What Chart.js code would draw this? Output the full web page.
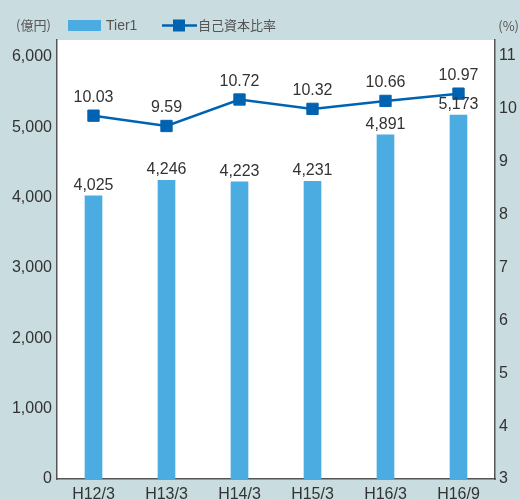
<!DOCTYPE html>
<html>
<head>
<meta charset="utf-8">
<script src="https://cdn.jsdelivr.net/npm/chart.js@4"></script>
<style>
  html, body { margin: 0; padding: 0; background: #c9dcdf; }
  canvas { display: block; }
</style>
</head>
<body>
<canvas id="chart" width="520" height="500"></canvas>
<script>
// データ
const categories = ['H12/3', 'H13/3', 'H14/3', 'H15/3', 'H16/3', 'H16/9'];
const tier1 = [4025, 4246, 4223, 4231, 4891, 5173];
const ratio = [10.03, 9.59, 10.72, 10.32, 10.66, 10.97];
const leftTicks = [0, 1000, 2000, 3000, 4000, 5000, 6000];
const rightTicks = [3, 4, 5, 6, 7, 8, 9, 10, 11];

const BAR_COLOR = '#4aace1';
const LINE_COLOR = '#0063b1';
const AXIS_COLOR = '#555';
const TEXT_COLOR = '#333';

Chart.defaults.font.family = '"Liberation Sans", Arial, sans-serif';
Chart.defaults.color = TEXT_COLOR;

// 白いプロット領域
const plotBg = {
    id: 'plotBg',
    beforeDraw(chart) {
        const { ctx, chartArea: a } = chart;
        ctx.save();
        ctx.fillStyle = '#fff';
        ctx.fillRect(a.left, a.top, a.right - a.left, a.bottom - a.top);
        ctx.restore();
    }
};

// 凡例と単位
const header = {
    id: 'header',
    afterDraw(chart) {
        const ctx = chart.ctx;
        const ds = chart.data.datasets;
        const cjk = '13px "Noto Sans CJK JP", sans-serif';
        ctx.save();
        ctx.textBaseline = 'middle';
        ctx.fillStyle = '#555';
        ctx.font = cjk;
        ctx.textAlign = 'left';
        ctx.fillText('(億円)', 16, 25);
        ctx.textAlign = 'right';
        ctx.fillText('(%)', 519, 26);

        // Tier1
        ctx.fillStyle = ds[1].backgroundColor;
        ctx.fillRect(68, 20, 33, 11);
        ctx.fillStyle = '#555';
        ctx.textAlign = 'left';
        ctx.font = '14px "Liberation Sans", Arial, sans-serif';
        ctx.fillText(ds[1].label, 106, 26);

        // 自己資本比率
        ctx.strokeStyle = ds[0].borderColor;
        ctx.lineWidth = 2.5;
        ctx.beginPath();
        ctx.moveTo(162, 25.5);
        ctx.lineTo(197, 25.5);
        ctx.stroke();
        ctx.fillStyle = ds[0].borderColor;
        ctx.fillRect(173, 19.5, 12, 12);
        ctx.fillStyle = '#555';
        ctx.font = cjk;
        ctx.fillText(ds[0].label, 198, 25);
        ctx.restore();
    }
};

// 数値ラベル
const valueLabels = {
    id: 'valueLabels',
    afterDatasetsDraw(chart) {
        const ctx = chart.ctx;
        ctx.save();
        ctx.font = '16px "Liberation Sans", Arial, sans-serif';
        ctx.fillStyle = TEXT_COLOR;
        ctx.textAlign = 'center';
        ctx.textBaseline = 'alphabetic';
        chart.data.datasets.forEach((ds, i) => {
            const meta = chart.getDatasetMeta(i);
            meta.data.forEach((el, j) => {
                const v = ds.data[j];
                if (ds.type === 'bar') {
                    ctx.fillText(v.toLocaleString('en-US'), el.x, el.y - 6);
                } else {
                    ctx.fillText(v.toFixed(2), el.x, el.y - 14);
                }
            });
        });
        ctx.restore();
    }
};

const ctx = document.getElementById('chart').getContext('2d');
new Chart(ctx, {
    data: {
        labels: categories,
        datasets: [
            {
                type: 'line',
                label: '自己資本比率',
                data: ratio,
                yAxisID: 'yLine',
                borderColor: LINE_COLOR,
                backgroundColor: LINE_COLOR,
                borderWidth: 2.5,
                pointStyle: 'rect',
                pointRadius: 8,
                pointBorderWidth: 1,
                tension: 0,
                order: 1
            },
            {
                type: 'bar',
                label: 'Tier1',
                data: tier1,
                yAxisID: 'y',
                backgroundColor: BAR_COLOR,
                barThickness: 17,
                order: 2
            }
        ]
    },
    options: {
        responsive: false,
        animation: false,
        layout: { padding: { top: 40, left: 0, right: 0, bottom: 0 } },
        plugins: {
            legend: { display: false },
            tooltip: { enabled: false }
        },
        scales: {
            x: {
                offset: true,
                grid: { display: false, drawTicks: false },
                border: { display: true, color: AXIS_COLOR, width: 1.5 },
                ticks: { font: { size: 16 }, color: TEXT_COLOR, padding: 6, maxRotation: 0 },
                afterFit(scale) { scale.height = 21; }
            },
            y: {
                position: 'left',
                min: 0,
                max: 6240,
                grid: { display: false, drawTicks: false },
                border: { display: true, color: AXIS_COLOR, width: 1.5 },
                ticks: {
                    font: { size: 16 },
                    color: TEXT_COLOR,
                    padding: 5,
                    callback: (v) => v.toLocaleString('en-US')
                },
                afterBuildTicks(scale) { scale.ticks = leftTicks.map(v => ({ value: v })); },
                afterFit(scale) { scale.width = 57; }
            },
            yRight: {
                position: 'right',
                min: 3,
                max: 11.3,
                grid: { display: false, drawTicks: false },
                border: { display: true, color: AXIS_COLOR, width: 1.5 },
                ticks: { font: { size: 16 }, color: TEXT_COLOR, padding: 4 },
                afterBuildTicks(scale) { scale.ticks = rightTicks.map(v => ({ value: v })); },
                afterFit(scale) { scale.width = 25; }
            },
            yLine: {
                display: false,
                min: -5.48,
                max: 13.26
            }
        }
    },
    plugins: [plotBg, header, valueLabels]
});
</script>
</body>
</html>
